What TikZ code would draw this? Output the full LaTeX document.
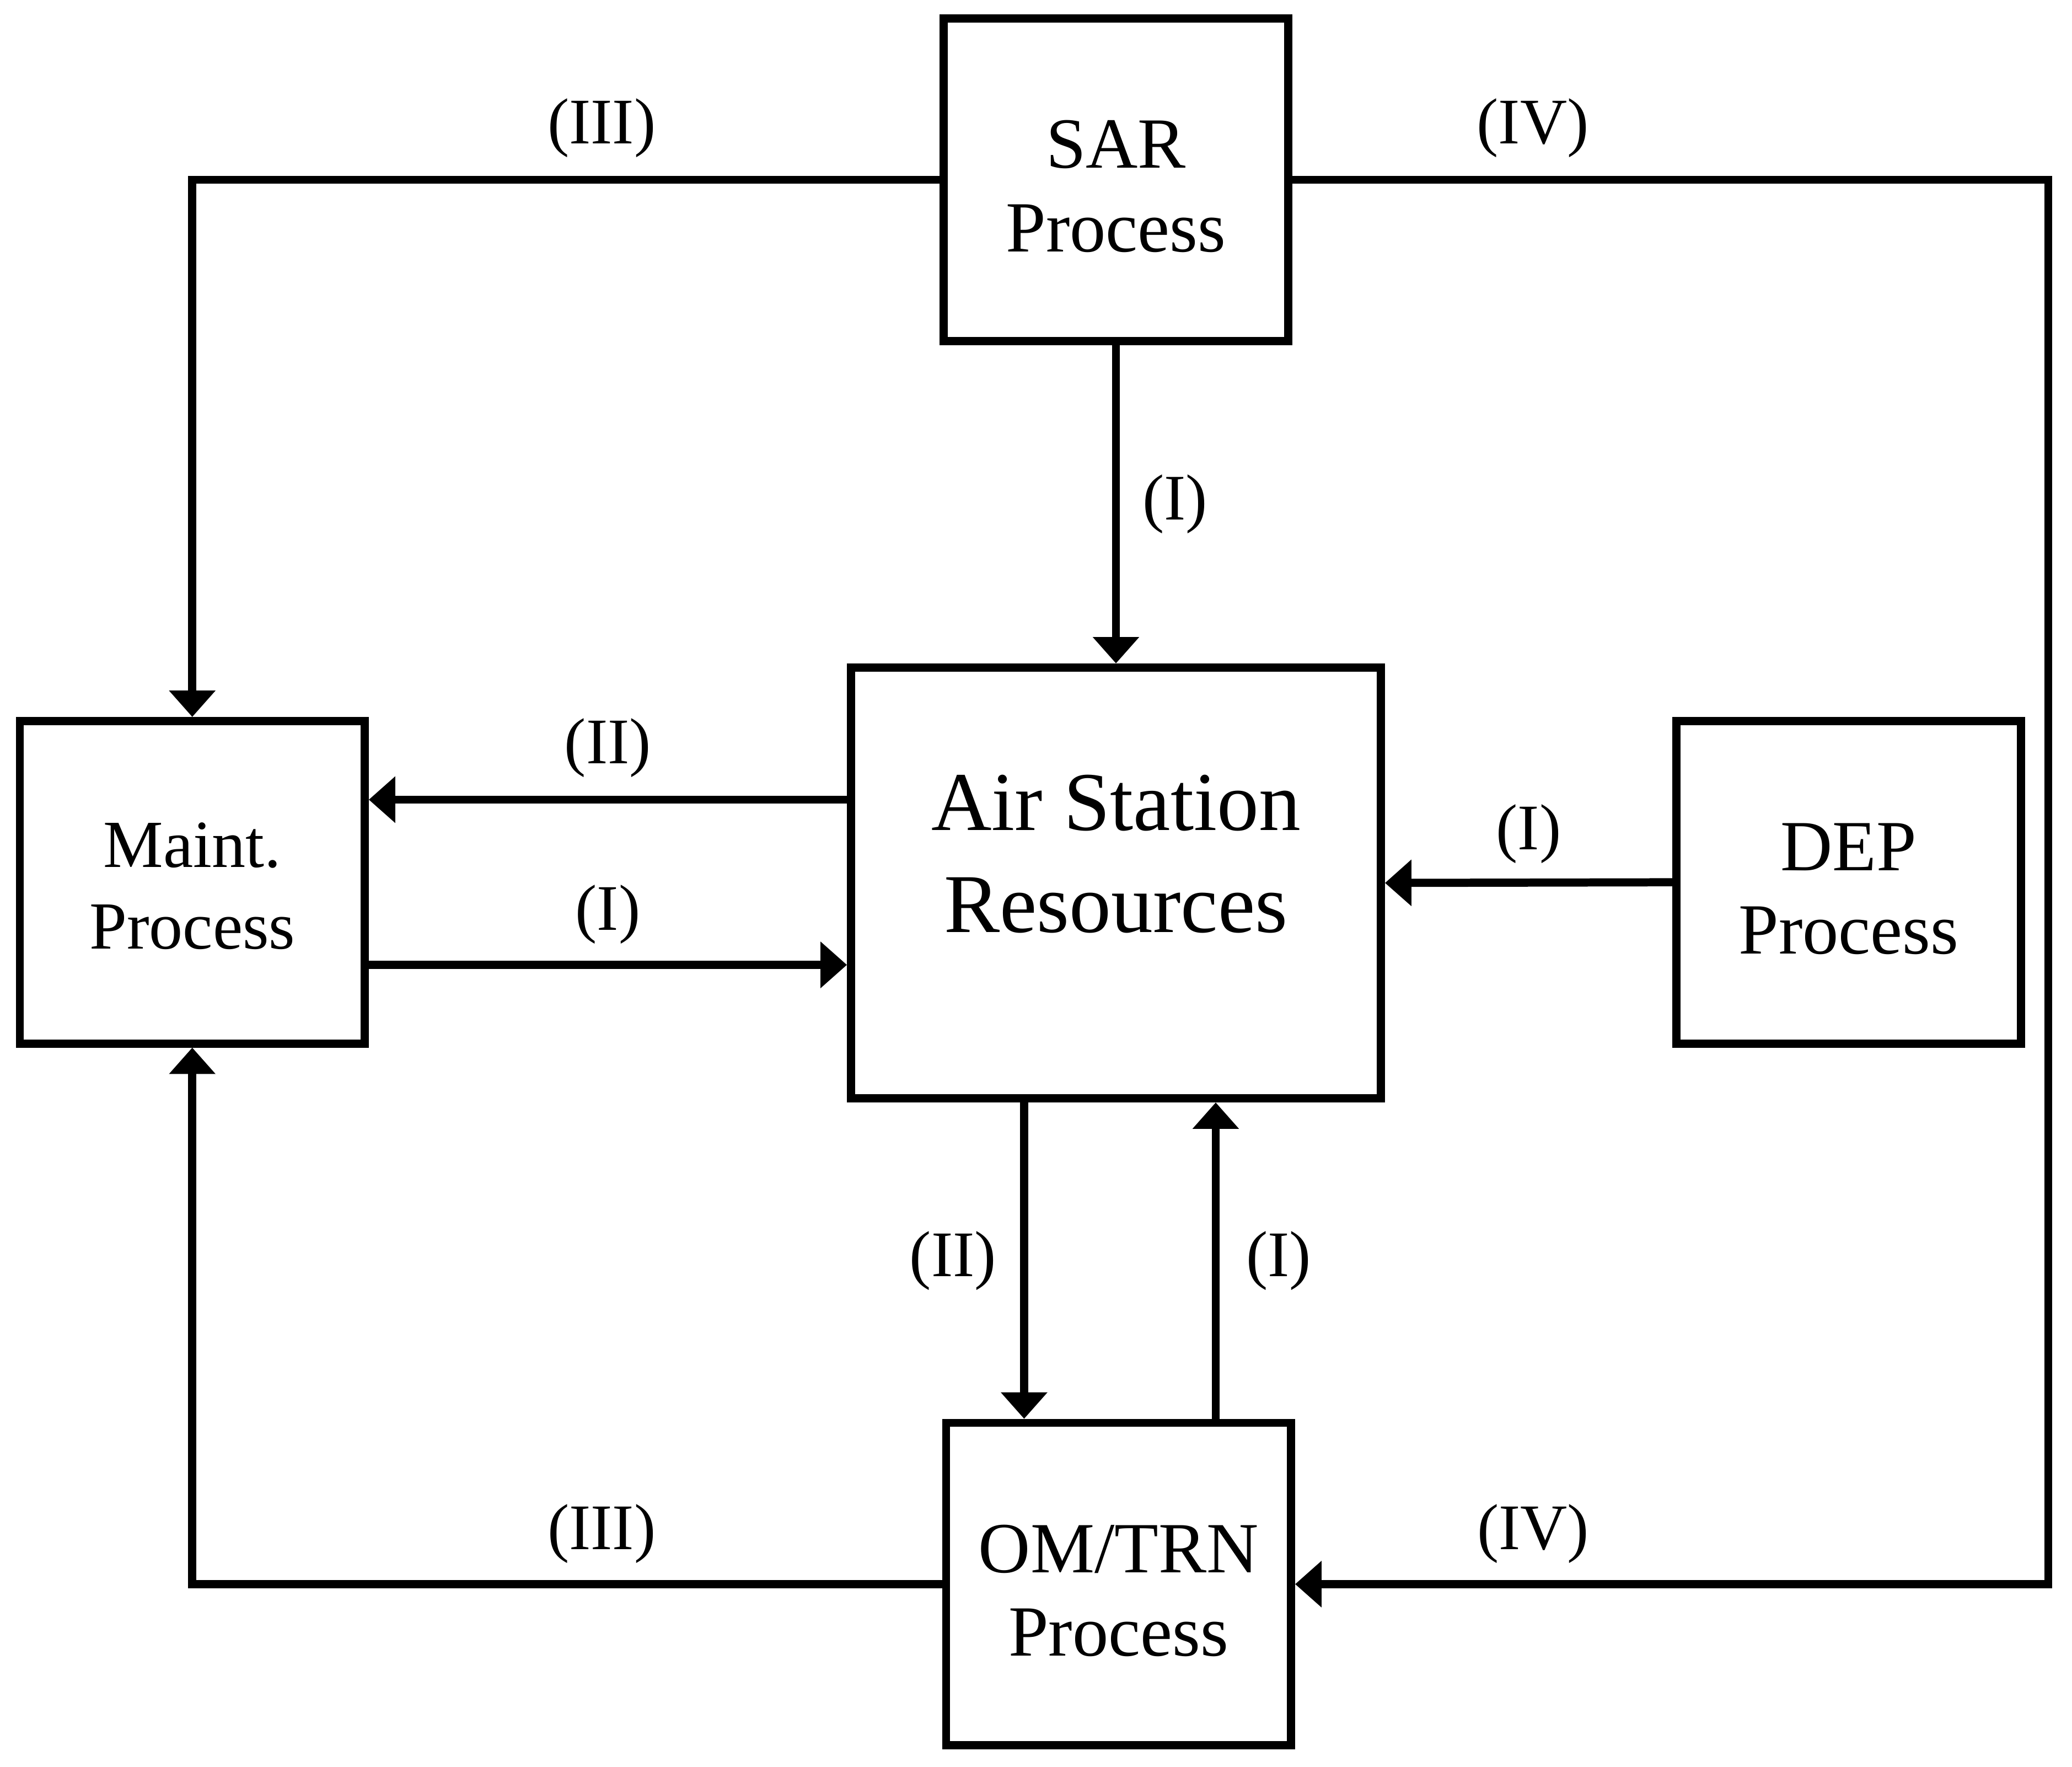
\documentclass[tikz,border=0pt]{standalone}
\usepackage{fontspec}
\setmainfont{Liberation Serif}
\usepackage{tikz}
\usetikzlibrary{positioning,arrows.meta}

\begin{document}
\begin{tikzpicture}[
  proc/.style={draw, line width=1.75pt, minimum width=2.61cm, minimum height=2.44cm, inner sep=0pt},
  ptxt/.style={align=center, inner sep=0pt, font=\fontsize{15.5}{18}\selectfont},
  flow/.style={line width=1.75pt, -{Triangle[length=2mm,width=3.4mm]}},
  lbl/.style={font=\fontsize{14}{16}\selectfont, inner sep=0pt}
]
  \useasboundingbox (0,-0.045) rectangle (15.68,13.32);
  % process boxes
  \node[proc] (sar) at (8.445,11.96) {};
  \node[proc] (maint) at (1.455,6.645) {};
  \node[proc] (dep) at (13.99,6.645) {};
  \node[proc] (om) at (8.465,1.335) {};
  \node[proc, minimum width=4.01cm, minimum height=3.26cm] (air) at (8.445,6.64) {};
  % box texts
  \node[ptxt] (sartext) at ([yshift=-0.5mm]sar.center) {SAR\\Process};
  \node[ptxt, font=\fontsize{14.5}{17.6}\selectfont] (mainttext) at ([yshift=-0.3mm]maint.center) {Maint.\\Process};
  \node[ptxt] (deptext) at ([yshift=-0.5mm]dep.center) {DEP\\Process};
  \node[ptxt] (omtext) at ([yshift=-0.5mm]om.center) {OM/TRN\\Process};
  \node[ptxt, font=\fontsize{18}{22}\selectfont] (airtext) at ([yshift=2.2mm]air.center) {Air Station\\Resources};

  % connector ends
  \coordinate (rt) at (15.50,6.64);
  \coordinate (airL2) at ([yshift=6.3mm]air.west);
  \coordinate (maintR1) at ([yshift=-6.25mm]maint.east);
  \coordinate (airB2) at ([xshift=-6.95mm]air.south);
  \coordinate (omT1) at ([xshift=7.35mm]om.north);

  % flows
  \draw[flow] (sar.west) -| (maint.north) node[lbl, pos=0.226, yshift=3.9mm] (l3top) {(III)};
  \draw[flow] (sar.east) -| (rt) node[lbl, pos=0.159, yshift=3.9mm] (l4top) {(IV)}
    |- (om.east) node[lbl, pos=0.842, yshift=3.8mm] (l4bot) {(IV)};
  \draw[flow] (sar.south) -- (air.north) node[lbl, midway, right=1.7mm] (l1sar) {(I)};
  \draw[flow] (airL2) -- (airL2 -| maint.east) node[lbl, midway, yshift=3.9mm] (l2maint) {(II)};
  \draw[flow] (maintR1) -- (maintR1 -| air.west) node[lbl, midway, yshift=3.8mm] (l1maint) {(I)};
  \draw[flow] (dep.west) -- (air.east) node[lbl, midway, yshift=3.7mm] (l1dep) {(I)};
  \draw[flow] (airB2) -- (airB2 |- om.north) node[lbl, midway, left=1.8mm] (l2om) {(II)};
  \draw[flow] (omT1) -- (omT1 |- air.south) node[lbl, midway, right=2mm] (l1om) {(I)};
  \draw[flow] (om.west) -| (maint.south) node[lbl, pos=0.227, yshift=3.8mm] (l3bot) {(III)};
\end{tikzpicture}
\end{document}
